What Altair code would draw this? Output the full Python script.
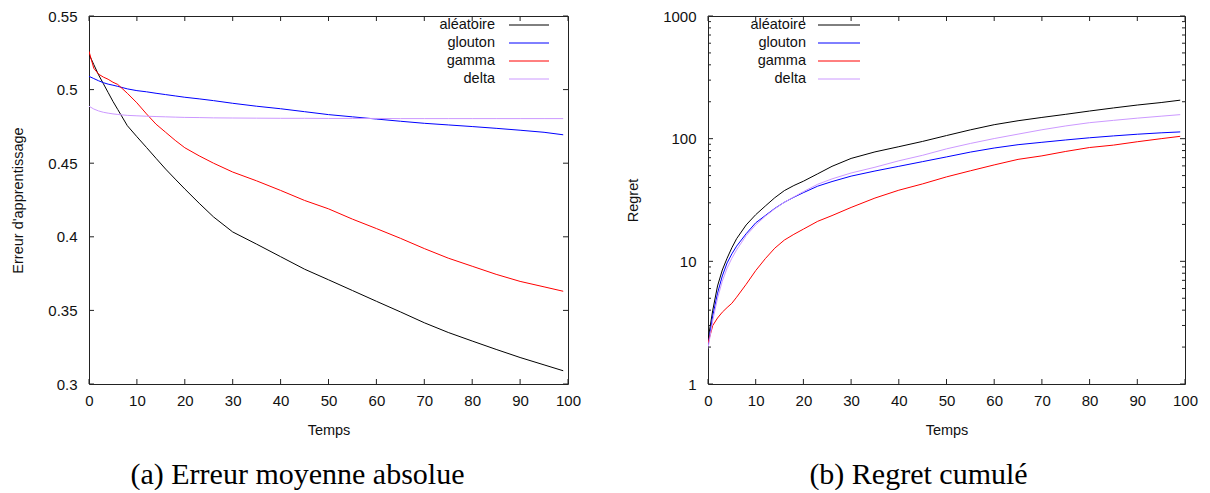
import altair as alt
import pandas as pd

# ---------------- data ----------------
T = [0, 1, 2, 3, 4, 5, 6, 8, 10, 12, 14, 16, 18, 20, 23, 26, 30, 35, 40,
     45, 50, 55, 60, 65, 70, 75, 80, 85, 90, 95, 99]

SERIES = ["aléatoire", "glouton", "gamma", "delta"]
COLORS = ["#000000", "#0000ff", "#ff0000", "#cc99ff"]

# (a) Erreur moyenne absolue
err_aleatoire = [0.524, 0.517, 0.510, 0.504, 0.498, 0.492, 0.4865, 0.4755, 0.468, 0.4607,
                 0.4533, 0.446, 0.4392, 0.4325, 0.4228, 0.4135, 0.4033, 0.395, 0.3865,
                 0.378, 0.3708, 0.3635, 0.3562, 0.349, 0.3416, 0.335, 0.3292, 0.3235,
                 0.318, 0.313, 0.309]
err_glouton = [0.509, 0.5075, 0.506, 0.5047, 0.5037, 0.503, 0.5022, 0.5005, 0.4993, 0.4985,
               0.4975, 0.4966, 0.4957, 0.4948, 0.4937, 0.4925, 0.4907, 0.4887, 0.487,
               0.485, 0.483, 0.4815, 0.480, 0.4785, 0.4771, 0.476, 0.4749, 0.4737,
               0.4724, 0.471, 0.4693]
err_gamma = [0.526, 0.5145, 0.5105, 0.5085, 0.507, 0.505, 0.5035, 0.4975, 0.491, 0.4835,
             0.4765, 0.471, 0.4655, 0.4605, 0.455, 0.450, 0.444, 0.438, 0.4315,
             0.4247, 0.419, 0.412, 0.4056, 0.399, 0.392, 0.3855, 0.380, 0.3745,
             0.3697, 0.366, 0.363]
err_delta = [0.4887, 0.4868, 0.4855, 0.4846, 0.484, 0.4835, 0.4831, 0.4825, 0.4822, 0.4819,
             0.4817, 0.4815, 0.4813, 0.4811, 0.481, 0.4808, 0.4807, 0.4806, 0.4805,
             0.4805, 0.4804, 0.4804, 0.4804, 0.4803, 0.4803, 0.4803, 0.4803, 0.4803,
             0.4803, 0.4803, 0.4803]

# (b) Regret cumulé
reg_aleatoire = [2.3, 4.0, 6.3, 8.5, 10.6, 12.9, 15.3, 19.8, 24.0, 28.2, 33.0, 37.7, 41.5,
                 45.0, 51.7, 59.5, 69.0, 78.0, 86.0, 95.0, 106.0, 118.0, 130.0, 140.0,
                 149.0, 158.0, 168.0, 178.0, 188.0, 197.0, 206.0]
reg_glouton = [2.05, 3.6, 5.5, 7.6, 9.7, 11.5, 13.3, 16.8, 20.6, 23.6, 27.0, 30.3, 33.3,
               36.3, 41.0, 44.7, 49.5, 54.5, 59.5, 65.0, 71.0, 77.7, 83.9, 89.3, 93.4,
               97.6, 101.7, 105.3, 108.7, 111.6, 113.5]
reg_gamma = [2.15, 3.0, 3.45, 3.85, 4.2, 4.55, 5.1, 6.5, 8.4, 10.5, 12.8, 14.9, 16.6,
             18.3, 21.2, 23.6, 27.5, 32.8, 38.0, 42.8, 48.8, 54.7, 61.1, 67.8, 72.4,
             78.7, 84.7, 88.6, 94.4, 100.0, 104.5]
reg_delta = [1.95, 3.3, 5.0, 6.9, 8.8, 10.6, 12.4, 16.2, 19.8, 23.3, 26.8, 30.3, 33.5,
             37.0, 42.5, 47.0, 52.5, 58.5, 66.0, 73.2, 82.6, 91.4, 100.2, 108.9, 118.2,
             127.0, 135.0, 141.0, 147.0, 152.5, 157.0]

X_TICKS = [0, 10, 20, 30, 40, 50, 60, 70, 80, 90, 100]
ERR_TICKS = [0.3, 0.35, 0.4, 0.45, 0.5, 0.55]
REG_TICKS = [1, 10, 100, 1000]
REG_MINOR = [2, 3, 4, 5, 6, 7, 8, 9, 20, 30, 40, 50, 60, 70, 80, 90,
             200, 300, 400, 500, 600, 700, 800, 900]

# ---------------- styling ----------------
FONT = "Liberation Sans"
SERIF = "Liberation Serif"
INK = "#111111"
FRAME = "#222222"
W1, W2, H = 479, 477, 368
MAJOR, MINOR_LEN = 5, 3


def long_df(lists):
    rows = []
    for name, vals in zip(SERIES, lists):
        for t, v in zip(T, vals):
            rows.append({"t": t, "v": v, "series": name})
    return pd.DataFrame(rows)


color_scale = alt.Scale(domain=SERIES, range=COLORS)


def panel(df, yscale, yticks, yminor, ytitle, W, leg_text_x, leg_line_x, caption, cap_dx):
    xscale = alt.Scale(domain=[0, 100], nice=False)
    xaxis = alt.Axis(values=X_TICKS, format="d", title="Temps", labelPadding=9,
                     titlePadding=15, labelFlush=False)
    yaxis = alt.Axis(values=yticks, format="~g", title=ytitle, labelPadding=12, titlePadding=22)
    lines = alt.Chart(df).mark_line(strokeWidth=1, clip=True).encode(
        x=alt.X("t:Q", scale=xscale, axis=xaxis),
        y=alt.Y("v:Q", scale=yscale, axis=yaxis),
        color=alt.Color("series:N", scale=color_scale, legend=None),
        order="t:Q",
    )
    xt = pd.DataFrame({"v": X_TICKS})
    yt = pd.DataFrame({"v": yticks})
    layers = [lines]
    for y0, y1 in [(H, H - MAJOR), (0, MAJOR)]:
        layers.append(alt.Chart(xt).mark_rule(color=FRAME, strokeWidth=1).encode(
            x=alt.X("v:Q", scale=xscale, axis=xaxis),
            y=alt.value(y0), y2=alt.value(y1)))
    for x0, x1 in [(0, MAJOR), (W, W - MAJOR)]:
        layers.append(alt.Chart(yt).mark_rule(color=FRAME, strokeWidth=1).encode(
            y=alt.Y("v:Q", scale=yscale, axis=yaxis),
            x=alt.value(x0), x2=alt.value(x1)))
    if yminor:
        ym = pd.DataFrame({"v": yminor})
        for x0, x1 in [(0, MINOR_LEN), (W, W - MINOR_LEN)]:
            layers.append(alt.Chart(ym).mark_rule(color=FRAME, strokeWidth=1).encode(
                y=alt.Y("v:Q", scale=yscale, axis=yaxis),
                x=alt.value(x0), x2=alt.value(x1)))
    main = alt.layer(*layers)

    leg = pd.DataFrame({"name": SERIES})
    ly = alt.Y("name:N", scale=alt.Scale(type="point", domain=SERIES, range=[9, 63], padding=0),
               axis=None)
    leg_text = alt.Chart(leg).mark_text(align="right", baseline="middle", font=FONT,
                                        fontSize=14.5, color=INK).encode(
        text="name:N", y=ly, x=alt.value(leg_text_x))
    leg_line = alt.Chart(leg).mark_rule(strokeWidth=1).encode(
        y=ly, x=alt.value(leg_line_x[0]), x2=alt.value(leg_line_x[1]),
        color=alt.Color("name:N", scale=color_scale, legend=None))
    legend = alt.layer(leg_text, leg_line)

    return alt.layer(main, legend).resolve_scale(y="independent").properties(
        width=W, height=H,
        title=alt.TitleParams(caption, orient="bottom", font=SERIF, fontSize=30,
                              fontWeight="normal", color="#000000", frame="group",
                              anchor="middle", dx=cap_dx, offset=23),
    )


left = panel(long_df([err_aleatoire, err_glouton, err_gamma, err_delta]),
             alt.Scale(domain=[0.3, 0.55], nice=False, zero=False),
             ERR_TICKS, None, "Erreur d'apprentissage", W1,
             406, (420, 460), "(a) Erreur moyenne absolue", -31)

right = panel(long_df([reg_aleatoire, reg_glouton, reg_gamma, reg_delta]),
              alt.Scale(type="log", domain=[1, 1000], nice=False),
              REG_TICKS, REG_MINOR, "Regret", W2,
              98, (110, 152), "(b) Regret cumulé", -28)

chart = alt.hconcat(left, right, spacing=43).properties(
    padding={"left": 2, "top": 0, "right": 0, "bottom": 0}
).configure_view(stroke=FRAME, strokeWidth=1).configure_axis(
    labelFont=FONT, labelFontSize=15, labelColor=INK,
    titleFont=FONT, titleFontSize=14.5, titleFontWeight="normal", titleColor=INK,
    ticks=False, domain=False, grid=False,
)

chart.save("out.html", embed_options={"renderer": "svg", "actions": False})
